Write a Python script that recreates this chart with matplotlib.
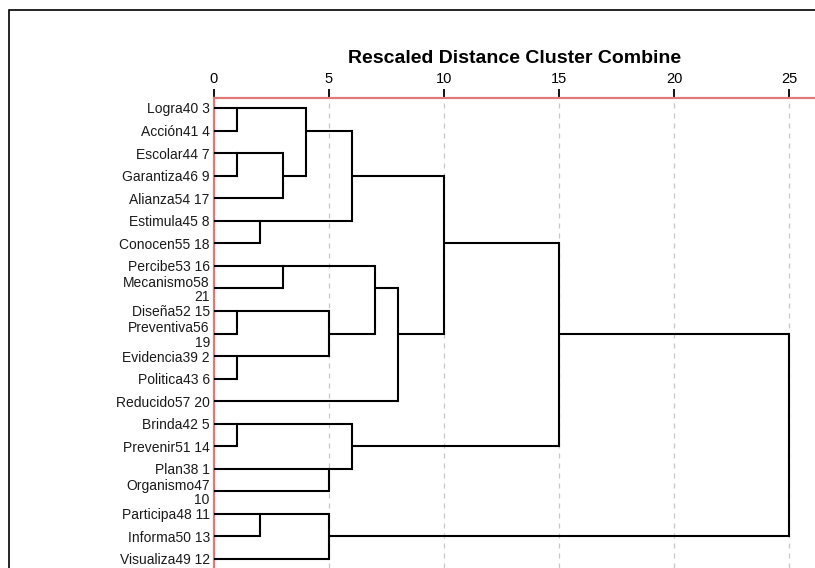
import numpy as np
import matplotlib.pyplot as plt
from matplotlib.patches import Rectangle

plt.rcParams['font.family'] = ['Liberation Sans', 'DejaVu Sans']

# leaf labels, top to bottom
labels = ['Logra40 3', 'Acción41 4', 'Escolar44 7', 'Garantiza46 9',
          'Alianza54 17', 'Estimula45 8', 'Conocen55 18', 'Percibe53 16',
          'Mecanismo58\n21', 'Diseña52 15', 'Preventiva56\n19',
          'Evidencia39 2', 'Politica43 6', 'Reducido57 20', 'Brinda42 5',
          'Prevenir51 14', 'Plan38 1', 'Organismo47\n10', 'Participa48 11',
          'Informa50 13', 'Visualiza49 12']

# merge steps: ids < 21 are leaves, id 21+k is the cluster made at step k
merge_a = [0, 2, 22, 21, 5, 24, 7, 9, 11, 28, 27, 31, 26, 14, 16, 34, 33, 18, 38, 37]
merge_b = [1, 3, 4, 23, 6, 25, 8, 10, 12, 29, 30, 13, 32, 15, 17, 35, 36, 19, 20, 39]
merge_dist = [1, 1, 3, 4, 2, 6, 3, 1, 1, 5, 7, 8, 10, 1, 5, 6, 15, 2, 5, 25]

xticks = [0, 5, 10, 15, 20, 25]

W, H = 815, 568
fig = plt.figure(figsize=(W / 100, H / 100), dpi=100)

# axes: x=0 at px 214, 23 px per unit; rows 22.55 px apart, row 0 at px 108
left, top = 214, 97.5
ax = fig.add_axes([left / W, 0, 1 - left / W, 1 - top / H])
row = 22.55
ax.set_xlim(0, (W - left) / 23.0)
ax.set_ylim((H - 108) / row, -(108 - top) / row)

n = len(labels)
xpos = [0.0] * n
ypos = [float(i) for i in range(n)]
for a, b, d in zip(merge_a, merge_b, merge_dist):
    for c in (a, b):
        ax.plot([xpos[c], d], [ypos[c], ypos[c]], color='black', lw=1.5,
                solid_capstyle='butt', zorder=3)
    ax.plot([d, d], [ypos[a], ypos[b]], color='black', lw=1.5,
            solid_capstyle='projecting', zorder=3)
    xpos.append(float(d))
    ypos.append(float(np.floor((ypos[a] + ypos[b]) / 2)))

for x in xticks[1:]:
    ax.axvline(x, color='#c8c8c8', lw=0.9, ls=(0, (4, 4)), zorder=1)

ax.set_yticks(range(n))
ax.set_yticklabels(labels, fontsize=10, color='#1a1a1a', multialignment='right',
                   linespacing=1.05)
ax.tick_params(axis='y', length=0, pad=3)

ax.xaxis.tick_top()
ax.set_xticks(xticks)
ax.set_xticklabels([str(t) for t in xticks], fontsize=10.5)
ax.tick_params(axis='x', direction='out', length=6.5, width=1.3, color='black', pad=1.5)

for s in ('right', 'bottom'):
    ax.spines[s].set_visible(False)
for s in ('top', 'left'):
    ax.spines[s].set_color('#e07878')
    ax.spines[s].set_linewidth(1.6)

ax.set_title('Rescaled Distance Cluster Combine', fontsize=14, fontweight='bold', pad=25)

# outer frame (continues past the right and bottom edges)
fig.patches.append(Rectangle((9 / W, -0.2), 2, (H - 10) / H + 0.2,
                             transform=fig.transFigure, fill=False,
                             edgecolor='black', lw=1.2))

fig.savefig('out.png', dpi=100)
